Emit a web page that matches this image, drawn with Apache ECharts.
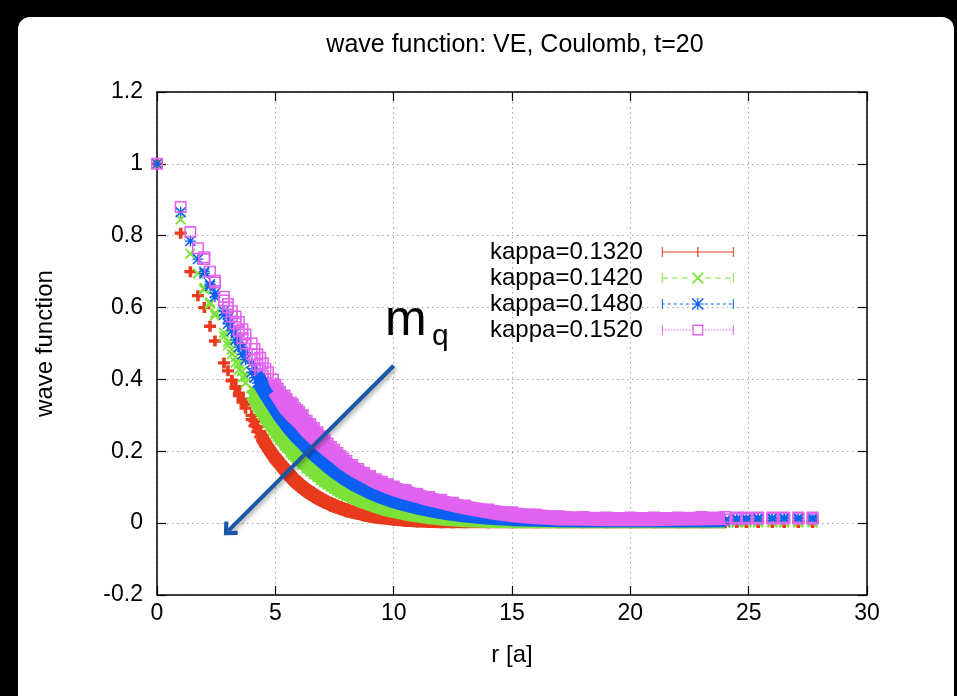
<!DOCTYPE html>
<html><head><meta charset="utf-8">
<script src="https://cdn.jsdelivr.net/npm/echarts@6/dist/echarts.min.js"></script>
<style>html,body{margin:0;padding:0;background:#000}#c{width:957px;height:696px}</style>
</head><body><div id="c"></div>
<script>
// ---------------- data ----------------
const titleText = 'wave function: VE, Coulomb, t=20';
const xName = 'r [a]';
const yName = 'wave function';
const seriesNames = ['kappa=0.1320', 'kappa=0.1420', 'kappa=0.1480', 'kappa=0.1520'];
const xTicks = [0, 5, 10, 15, 20, 25, 30];
const yTicks = [-0.2, 0, 0.2, 0.4, 0.6, 0.8, 1, 1.2];

const rValues = [0,1,1.41,1.73,2,2.24,2.45,2.83,3,3.16,
  3.32,3.46,3.61,3.74,4,4.12,4.24,4.36,4.47,4.58,
  4.69,4.9,5,5.1,5.2,5.39,5.48,5.66,5.74,5.83,
  5.92,6,6.16,6.32,6.48,6.63,6.78,6.93,7.07,7.21,
  7.35,7.48,7.62,7.75,7.87,8,8.25,8.5,8.75,9,
  9.25,9.5,9.75,10,10.5,11,11.5,12,12.5,13,
  14,15,16,17,18,19,20,21,22,23,
  24,24.5,24.9,25.4,26,26.5,27.1,27.7];

// kappa=0.1320 (upper / lower edge of the scatter at each r)
const k1320Hi = [1,.807,.70,.633,.60,.548,.507,.446,.424,.398,
  .38,.362,.345,.33,.30,.284,.268,.253,.24,.228,
  .216,.196,.187,.179,.171,.156,.149,.136,.13,.124,
  .119,.114,.105,.097,.09,.083,.077,.071,.066,.061,
  .057,.053,.049,.046,.043,.04,.035,.03,.026,.022,
  .019,.016,.014,.012,.009,.006,.004,.003,.003,.003,
  .003,.003,.003,.003,.003,.003,.003,.003,.003,.003,
  .003,.005,.005,.005,.005,.005,.005,.005];
const k1320Lo = [1,.807,.70,.633,.60,.548,.507,.446,.424,.396,
  .375,.355,.337,.32,.288,.271,.255,.24,.227,.215,
  .203,.183,.174,.166,.158,.143,.136,.123,.117,.111,
  .106,.101,.093,.085,.078,.072,.066,.061,.056,.052,
  .048,.044,.041,.038,.035,.032,.028,.024,.02,.017,
  .014,.012,.01,.008,.005,.003,.002,.001,.001,.001,
  .001,.001,.001,.001,.001,.001,.001,.001,.001,.001,
  .001,.002,.002,.002,.002,.002,.002,.002];
// kappa=0.1420
const k1420Hi = [1,.845,.75,.695,.655,.615,.585,.53,.505,.483,
  .462,.443,.423,.407,.375,.36,.347,.335,.323,.312,
  .30,.28,.271,.262,.253,.237,.23,.216,.21,.204,
  .197,.192,.181,.171,.161,.152,.143,.135,.128,.121,
  .114,.108,.102,.097,.092,.087,.078,.07,.063,.056,
  .05,.045,.04,.036,.028,.022,.017,.013,.01,.008,
  .005,.004,.004,.004,.004,.004,.004,.004,.004,.004,
  .004,.006,.006,.006,.006,.006,.006,.006];
const k1420Lo = [1,.845,.75,.695,.65,.61,.578,.52,.495,.47,
  .447,.427,.406,.39,.355,.34,.325,.312,.30,.289,
  .278,.258,.249,.24,.232,.216,.209,.196,.19,.184,
  .178,.173,.163,.153,.144,.136,.128,.12,.113,.107,
  .101,.095,.09,.085,.08,.076,.068,.06,.054,.048,
  .042,.037,.033,.029,.022,.017,.012,.009,.006,.004,
  .002,.001,.001,.001,.001,.001,.001,.001,.001,.001,
  .001,.002,.002,.002,.002,.002,.002,.002];
// kappa=0.1480
const k1480Hi = [1,.865,.785,.735,.70,.665,.64,.59,.57,.55,
  .53,.51,.49,.475,.445,.43,.415,.405,.392,.38,
  .37,.35,.34,.33,.32,.305,.297,.283,.277,.27,
  .263,.257,.245,.233,.222,.212,.202,.192,.183,.175,
  .167,.16,.152,.146,.14,.134,.123,.113,.103,.095,
  .087,.08,.073,.067,.057,.048,.041,.034,.029,.024,
  .017,.012,.009,.008,.007,.007,.007,.007,.007,.007,
  .008,.012,.013,.014,.015,.015,.015,.015];
const k1480Lo = [1,.865,.785,.735,.695,.66,.63,.58,.555,.535,
  .51,.49,.47,.455,.42,.405,.39,.377,.365,.353,
  .342,.32,.31,.30,.29,.274,.266,.252,.246,.239,
  .233,.228,.217,.206,.196,.186,.177,.169,.161,.153,
  .146,.139,.133,.127,.121,.116,.106,.097,.089,.081,
  .074,.068,.062,.056,.047,.039,.032,.026,.021,.017,
  .011,.007,.005,.004,.003,.003,.003,.003,.003,.003,
  .004,.009,.01,.011,.012,.012,.012,.011];
// kappa=0.1520
const k1520Hi = [1,.88,.81,.765,.74,.70,.675,.63,.61,.59,
  .575,.56,.54,.525,.50,.485,.47,.46,.445,.43,
  .42,.40,.385,.375,.365,.355,.345,.335,.33,.32,
  .315,.31,.30,.285,.275,.265,.253,.242,.232,.222,
  .212,.204,.195,.187,.18,.173,.162,.151,.14,.131,
  .122,.115,.108,.102,.092,.082,.073,.065,.057,.049,
  .038,.03,.024,.019,.017,.016,.016,.016,.016,.017,
  .017,.016,.016,.016,.016,.016,.016,.016];
const k1520Lo = [1,.88,.81,.765,.735,.70,.67,.62,.60,.575,
  .555,.535,.515,.50,.47,.455,.44,.425,.41,.40,
  .385,.365,.355,.345,.335,.315,.31,.295,.29,.285,
  .28,.275,.262,.25,.24,.23,.22,.212,.205,.197,
  .19,.183,.176,.169,.162,.156,.146,.136,.127,.118,
  .11,.103,.096,.09,.08,.071,.062,.054,.046,.039,
  .027,.018,.012,.009,.008,.007,.007,.007,.008,.009,
  .01,.012,.012,.013,.013,.013,.013,.012];

// annotation: arrow in data coordinates, label text
const arrowFrom = [10.0, 0.438];
const arrowTo = [3.02, -0.021];
const annMain = 'm', annSub = 'q';

// ---------------- style ----------------
const FONT = '"Liberation Sans", Arial, Helvetica, sans-serif';
const colors = ['#ea3a1e', '#7ce23a', '#0b5ff2', '#e262f0'];
const bandFrom = [4.36, 4.0, 4.24, 4.9];
const bandTo = 24;

const plusPath = 'path://M3.5,0H6.5V3.5H10V6.5H6.5V10H3.5V6.5H0V3.5H3.5Z';
const crossPath = 'path://M1.2,0L10,8.8L8.8,10L0,1.2Z M8.8,0L10,1.2L1.2,10L0,8.8Z';
const starPath = 'path://M4.4,0H5.6V10H4.4Z M0,4.4H10V5.6H0Z M1,0L10,9L9,10L0,1Z M9,0L10,1L1,10L0,9Z';
const squarePath = 'path://M0,0H10V10H0Z M1.3,1.3V8.7H8.7V1.3Z';
const symbols = [plusPath, crossPath, starPath, squarePath];
const symSizes = [[12, 11], 11, 11, 12];

// legend icons (72 x 12 box)
function seg(a, b) { return 'M' + a + ',5.4H' + b + 'V6.6H' + a + 'Z '; }
function dashed(a, b, on, off) { let s = ''; for (let x = a; x < b; x += on + off) s += seg(x, Math.min(x + on, b)); return s; }
function cap(x) { return 'M' + x + ',1H' + (x + 1) + 'V11H' + x + 'Z '; }
const ends = 'M0,0H0.01V12H0Z M71.99,0H72V12H71.99Z ';
const icons = [
  'path://' + ends + seg(0, 72) + cap(0) + cap(71) + 'M35.4,1H36.6V11H35.4Z',
  'path://' + ends + dashed(0, 30, 6, 4) + dashed(43, 72, 6, 4) + cap(0) + cap(71) +
    'M31.2,0L42,10.8L40.8,12L30,1.2Z M40.8,0L42,1.2L31.2,12L30,10.8Z',
  'path://' + ends + dashed(0, 30, 3, 3) + dashed(43, 72, 3, 3) + cap(0) + cap(71) +
    'M35.4,0H36.6V12H35.4Z M30,5.4H42V6.6H30Z M31,0L42,11L41,12L30,1Z M41,0L42,1L31,12L30,11Z',
  'path://' + ends + dashed(0, 30, 1.5, 1.5) + dashed(43, 72, 1.5, 1.5) + cap(0) + cap(71) +
    'M30.5,0.5H41.5V11.5H30.5Z M31.9,1.9V10.1H40.1V1.9Z'
];

const his = [k1320Hi, k1420Hi, k1480Hi, k1520Hi];
const los = [k1320Lo, k1420Lo, k1480Lo, k1520Lo];

function points(hi, lo) {
  const out = [];
  rValues.forEach((r, i) => { out.push([r, hi[i]]); if (lo[i] !== hi[i]) out.push([r, lo[i]]); });
  return out;
}
function band(arr, from) {
  return rValues.map((r, i) => [r, arr[i]]).filter(p => p[0] >= from && p[0] <= bandTo);
}

const series = [];
for (let k = 0; k < 4; k++) {
  series.push({
    type: 'scatter', name: seriesNames[k], data: points(his[k], los[k]),
    symbol: symbols[k], symbolSize: symSizes[k],
    itemStyle: { color: colors[k], opacity: 1 }, animation: false, silent: true
  });
  [his[k], los[k]].forEach(arr => series.push({
    type: 'line', data: band(arr, bandFrom[k]), showSymbol: false, silent: true, animation: false,
    lineStyle: { color: colors[k], width: 11, cap: 'butt', join: 'round' }
  }));
}
const chevron = 'path://M10,0L20,10L17,13L10,6L3,13L0,10Z';
series.push({
  type: 'scatter', data: [], silent: true, animation: false,
  markLine: {
    silent: true, animation: false, symbol: ['none', chevron], symbolSize: [19, 13],
    label: { show: false },
    lineStyle: { color: '#1d57aa', width: 4, type: 'solid', shadowBlur: 4, shadowColor: 'rgba(0,0,0,0.35)', shadowOffsetX: 2, shadowOffsetY: 2 },
    emphasis: { disabled: true },
    data: [[{ coord: arrowFrom }, { coord: arrowTo }]]
  }
});

const axisCommon = {
  axisLine: { onZero: false, lineStyle: { color: '#000', width: 1.5 } },
  axisTick: { inside: true, length: 9, lineStyle: { color: '#000', width: 1.2 } }
};
const gridLine = { show: true, lineStyle: { color: '#a8a8a8', width: 1, type: [1.5, 3.5] } };
const yFmt = v => String(Math.round(v * 10) / 10);

const option = {
  backgroundColor: '#000',
  animation: false,
  textStyle: { fontFamily: FONT },
  title: {
    text: titleText, left: 510, top: 28, textAlign: 'center',
    textStyle: { fontSize: 25, fontWeight: 'normal', color: '#000', fontFamily: FONT }
  },
  grid: { left: 157, right: 90, top: 92, bottom: 101, containLabel: false },
  xAxis: [
    Object.assign({
      type: 'value', min: xTicks[0], max: xTicks[xTicks.length - 1], interval: xTicks[1] - xTicks[0],
      position: 'bottom', splitLine: gridLine,
      axisLabel: { fontSize: 23, color: '#000', margin: 7, fontFamily: FONT },
      name: xName, nameLocation: 'middle', nameGap: 48,
      nameTextStyle: { fontSize: 24, color: '#000', fontFamily: FONT }
    }, axisCommon),
    Object.assign({
      type: 'value', min: xTicks[0], max: xTicks[xTicks.length - 1], interval: xTicks[1] - xTicks[0],
      position: 'top', splitLine: { show: false }, axisLabel: { show: false }
    }, axisCommon)
  ],
  yAxis: [
    Object.assign({
      type: 'value', min: yTicks[0], max: yTicks[yTicks.length - 1], interval: 0.2,
      position: 'left', splitLine: gridLine,
      axisLabel: { fontSize: 23, color: '#000', margin: 14, fontFamily: FONT, formatter: yFmt },
      name: yName, nameLocation: 'middle', nameGap: 100, nameRotate: 90,
      nameTextStyle: { fontSize: 24, color: '#000', fontFamily: FONT }
    }, axisCommon),
    Object.assign({
      type: 'value', min: yTicks[0], max: yTicks[yTicks.length - 1], interval: 0.2,
      position: 'right', splitLine: { show: false }, axisLabel: { show: false }
    }, axisCommon)
  ],
  legend: {
    orient: 'vertical', left: 485, top: 235, align: 'right',
    itemWidth: 72, itemHeight: 12, itemGap: 2, selectedMode: false,
    textStyle: { fontSize: 24, color: '#000', fontFamily: FONT, lineHeight: 24, padding: [0, 14, 0, 0] },
    data: seriesNames.map((n, i) => ({ name: n, icon: icons[i] }))
  },
  graphic: [
    { type: 'rect', z: -100, silent: true, shape: { x: 18, y: 17, width: 936, height: 700, r: 12 }, style: { fill: '#fff' } },
    { type: 'text', z: 100, silent: true, style: { text: annMain, x: 385, y: 321, fontSize: 50, fontFamily: FONT, fill: '#000', verticalAlign: 'middle' } },
    { type: 'text', z: 100, silent: true, style: { text: annSub, x: 432, y: 337, fontSize: 30, fontFamily: FONT, fill: '#000', verticalAlign: 'middle' } }
  ],
  series: series
};

const chart = echarts.init(document.getElementById('c'), null, { renderer: 'canvas' });
chart.setOption(option);
</script>
</body></html>
